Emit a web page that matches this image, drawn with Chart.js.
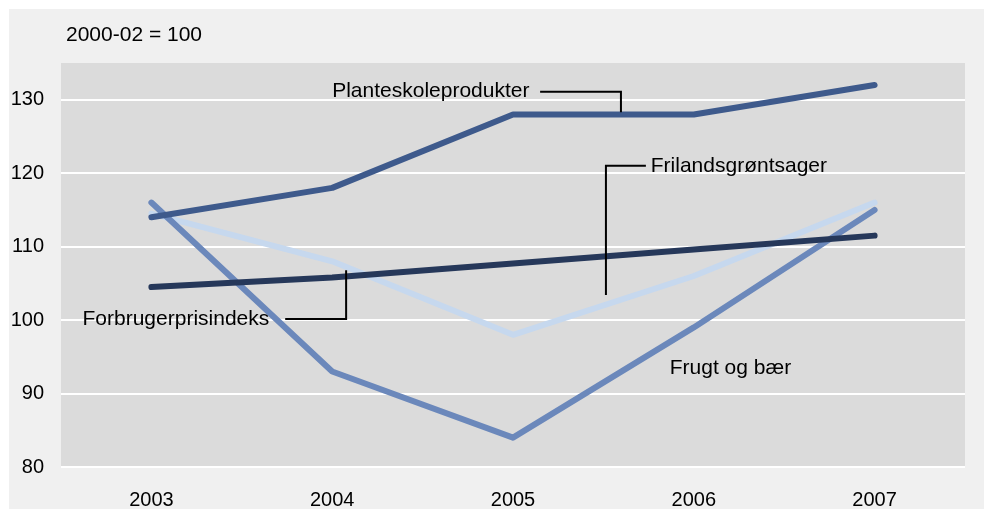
<!DOCTYPE html>
<html lang="da">
<head>
<meta charset="UTF-8">
<title>Prisindeks</title>
<script src="https://cdn.jsdelivr.net/npm/chart.js"></script>
<style>
  body { margin: 0; background: #fff; }
  #box { position: absolute; left: 9px; top: 9px; width: 975px; height: 500px; background: #f0f0f0; }
</style>
</head>
<body>
<div id="box"><canvas id="chart"></canvas></div>
<script>
// data
const years = ["2003", "2004", "2005", "2006", "2007"];
const planteskole = [114, 118, 128, 128, 132];
const forbruger = [104.5, 105.8, 107.7, 109.6, 111.5];
const frugt = [116, 93, 84, 99, 115];
const frilands = [114.5, 108, 98, 106, 116];
const yTicks = [80, 90, 100, 110, 120, 130];

const FONT = "Arial, 'Liberation Sans', sans-serif";

// labels with leader lines, in (category index, value) units
const notes = [
  { text: "Planteskoleprodukter", at: [1.0, 131.2], path: [[2.15, 131.1], [2.597, 131.1], [2.597, 128.3]] },
  { text: "Frilandsgrøntsager", at: [2.762, 121.0], path: [[2.735, 121.0], [2.514, 121.0], [2.514, 103.4]] },
  { text: "Forbrugerprisindeks", at: [-0.381, 100.1], path: [[0.74, 100.15], [1.077, 100.15], [1.077, 106.8]] },
  { text: "Frugt og bær", at: [2.867, 93.5], path: null }
];

const plotBg = {
  id: "plotBg",
  beforeDraw(chart) {
    const a = chart.chartArea, c = chart.ctx;
    c.save();
    c.fillStyle = "#dbdbdb";
    c.fillRect(a.left, a.top, a.right - a.left, a.bottom - a.top);
    c.restore();
  }
};

const annotations = {
  id: "annotations",
  afterDraw(chart) {
    const c = chart.ctx, xs = chart.scales.x, ys = chart.scales.y;
    c.save();
    c.font = "21px " + FONT;
    c.fillStyle = "#000";
    c.textBaseline = "middle";
    c.fillText("2000-02 = 100", chart.chartArea.left + 5, chart.chartArea.top - 28);
    notes.forEach(n => {
      c.fillText(n.text, xs.getPixelForValue(n.at[0]), ys.getPixelForValue(n.at[1]));
      if (n.path) {
        c.beginPath();
        c.lineWidth = 2;
        c.strokeStyle = "#000";
        n.path.forEach((p, i) => {
          const px = xs.getPixelForValue(p[0]), py = ys.getPixelForValue(p[1]);
          if (i === 0) c.moveTo(px, py); else c.lineTo(px, py);
        });
        c.stroke();
      }
    });
    c.restore();
  }
};

function line(label, data, color) {
  return {
    label: label,
    data: data,
    borderColor: color,
    borderWidth: 6,
    borderCapStyle: "round",
    borderJoinStyle: "round",
    pointRadius: 0,
    tension: 0,
    fill: false
  };
}

new Chart(document.getElementById("chart"), {
  type: "line",
  data: {
    labels: years,
    datasets: [
      line("Planteskoleprodukter", planteskole, "#3e5a8c"),
      line("Forbrugerprisindeks", forbruger, "#26385a"),
      line("Frugt og bær", frugt, "#6b88bb"),
      line("Frilandsgrøntsager", frilands, "#c6d8ee")
    ]
  },
  options: {
    responsive: true,
    maintainAspectRatio: false,
    animation: false,
    layout: { padding: { left: 0, top: 54, right: 19, bottom: 0 } },
    plugins: { legend: { display: false }, tooltip: { enabled: false } },
    scales: {
      x: {
        offset: true,
        grid: { display: false },
        border: { display: false },
        ticks: { color: "#000", font: { family: FONT, size: 20 }, padding: 13 },
        afterFit(s) { s.height = 42; }
      },
      y: {
        min: 80,
        max: 135,
        grid: { color: "#fff", lineWidth: 2, drawTicks: false },
        border: { display: false },
        ticks: { color: "#000", font: { family: FONT, size: 20 }, padding: 17 },
        afterBuildTicks(s) { s.ticks = yTicks.map(v => ({ value: v })); },
        afterFit(s) { s.width = 52; }
      }
    }
  },
  plugins: [plotBg, annotations]
});
</script>
</body>
</html>
